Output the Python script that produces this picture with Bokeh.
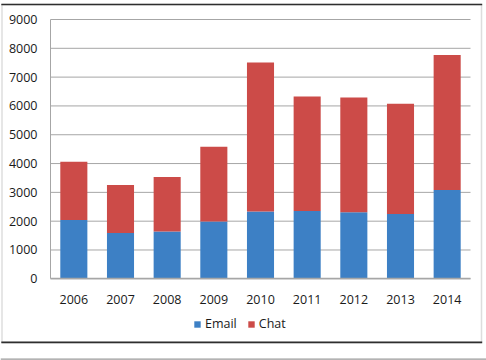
from bokeh.plotting import figure
from bokeh.models import (Range1d, BoxAnnotation, Legend, LegendItem, ColumnDataSource,
                          FixedTicker, LinearAxis)
from bokeh.embed import file_html
from bokeh.resources import INLINE

years = [2006, 2007, 2008, 2009, 2010, 2011, 2012, 2013, 2014]
year_labels = ["2006", "2007", "2008", "2009", "2010", "2011", "2012", "2013", "2014"]
email = [2040, 1590, 1640, 1990, 2340, 2350, 2310, 2250, 3080]
chat = [2020, 1670, 1890, 2590, 5170, 3980, 3980, 3830, 4690]
y_ticks = [0, 1000, 2000, 3000, 4000, 5000, 6000, 7000, 8000, 9000]

BLUE = "#3d80c5"
RED = "#cc4b48"
FONT = "Open Sans"
TXT = "#1a1a1a"
GRID = "#a6a6a6"

W, H = 486, 360
# plot area in pixels: x 50..470, y 19..278.3
px_per_year = 420 / 9
x0 = years[0] - 0.5 - 50 / px_per_year
x1 = x0 + W / px_per_year
px_per_val = (278.3 - 19) / 9000
y1 = 9000 + 19 / px_per_val
y0 = -(H - 278.3) / px_per_val

src = ColumnDataSource(dict(year=years, email=email, chat=chat))

p = figure(width=W, height=H, x_range=Range1d(x0, x1), y_range=Range1d(y0, y1),
           output_backend="svg", toolbar_location=None,
           x_axis_location=None, y_axis_location=None,
           min_border=0, min_border_left=0, min_border_right=0,
           min_border_top=0, min_border_bottom=0)
p.outline_line_color = None
p.background_fill_color = "white"
p.border_fill_color = "white"
for g in p.grid:
    g.visible = False

xb = (years[0] - 0.5, years[-1] + 0.5)

# horizontal grid lines limited to the plot area
grid_src = ColumnDataSource(dict(y=y_ticks, xs=[xb[0]] * len(y_ticks), xe=[xb[1]] * len(y_ticks)))
p.segment(x0="xs", x1="xe", y0="y", y1="y", source=grid_src,
          line_color=GRID, line_width=1, level="underlay")

r = p.vbar_stack(["email", "chat"], x="year", width=0.58, color=[BLUE, RED],
                 line_color=None, source=src)

xaxis = LinearAxis(fixed_location=0, bounds=xb, ticker=FixedTicker(ticks=years),
                   major_label_overrides={y: s for y, s in zip(years, year_labels)},
                   axis_line_color=GRID, axis_line_width=1.5,
                   major_tick_line_color=None, minor_tick_line_color=None,
                   major_label_text_font=FONT, major_label_text_font_size="12.5px",
                   major_label_text_color=TXT, major_label_standoff=10)
p.add_layout(xaxis, "below")

yaxis = LinearAxis(fixed_location=years[0] - 0.5, bounds=(0, 9000),
                   ticker=FixedTicker(ticks=y_ticks),
                   axis_line_color=GRID, axis_line_width=1,
                   major_tick_line_color=None, minor_tick_line_color=None,
                   major_label_text_font=FONT, major_label_text_font_size="12.5px",
                   major_label_text_color=TXT, major_label_standoff=7)
p.add_layout(yaxis, "left")

legend = Legend(items=[LegendItem(label="Email", renderers=[r[0]]),
                       LegendItem(label="Chat", renderers=[r[1]])],
                orientation="horizontal", location=(193, 28),
                glyph_width=8, glyph_height=8, label_text_font=FONT,
                label_text_font_size="12.5px", label_text_color=TXT,
                border_line_color=None, background_fill_alpha=0,
                spacing=10, padding=0, margin=0, label_standoff=4)
p.add_layout(legend, "center")

def canvas_box(**kw):
    return BoxAnnotation(left_units="canvas", right_units="canvas",
                         top_units="canvas", bottom_units="canvas",
                         level="overlay", **kw)

# outer frame of the chart: grey sides, dark top and bottom, and a line below it
p.add_layout(canvas_box(left=1.5, right=481, top=4, bottom=342, fill_alpha=0,
                        line_color="#8f8f8f", line_width=1.5))
p.add_layout(canvas_box(left=0.8, right=481.7, top=3.2, bottom=4.8,
                        fill_color="#2e2e2e", fill_alpha=1, line_color=None))
p.add_layout(canvas_box(left=0.8, right=481.7, top=341, bottom=342.8,
                        fill_color="#2e2e2e", fill_alpha=1, line_color=None))
p.add_layout(canvas_box(left=0, right=486, top=358, bottom=359.2,
                        fill_color="#9a9a9a", fill_alpha=1, line_color=None))

open("out.html", "w").write(file_html(p, INLINE))
